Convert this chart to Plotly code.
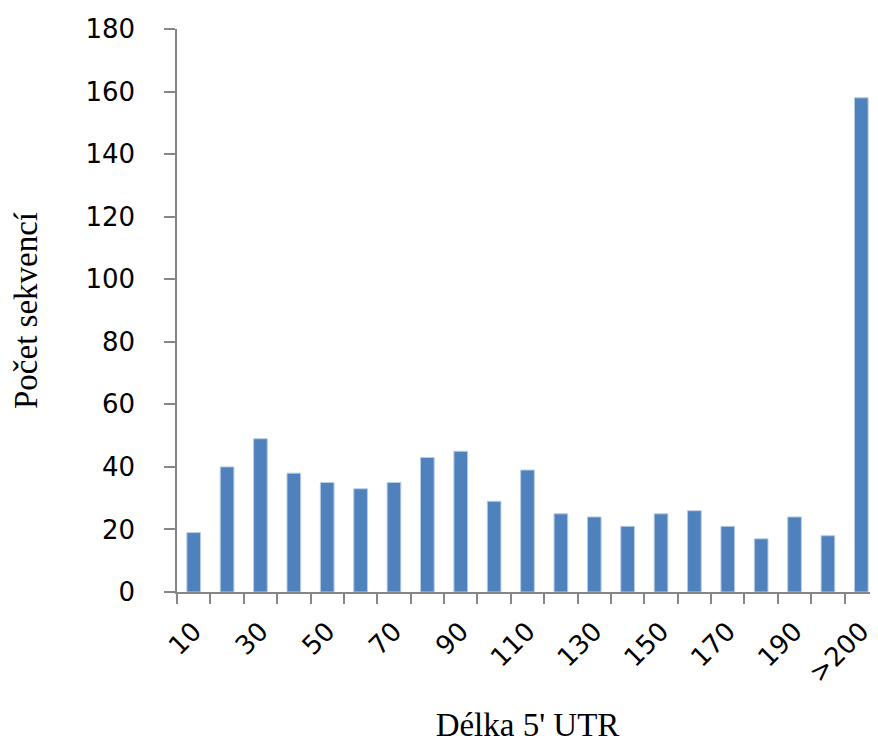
import plotly.graph_objects as go

categories = ["10", "20", "30", "40", "50", "60", "70", "80", "90", "100",
              "110", "120", "130", "140", "150", "160", "170", "180", "190", "200", ">200"]
counts = [19, 40, 49, 38, 35, 33, 35, 43, 45, 29, 39, 25, 24, 21, 25, 26, 21, 17, 24, 18, 158]
tick_labels = [c if i % 2 == 0 else "" for i, c in enumerate(categories)]
y_ticks = list(range(0, 181, 20))

fig = go.Figure(go.Bar(
    x=categories, y=counts,
    marker=dict(color="#4F81BD", line=dict(color="#B9CDE5", width=1)),
    width=0.41,
))

axis_gray = "#868686"
tick_font = dict(family="DejaVu Sans", size=26, color="black")
title_font = dict(family="Liberation Serif", size=33, color="black")
fig.update_layout(
    width=870, height=741,
    margin=dict(l=169, r=0, t=21, b=157),
    plot_bgcolor="white", paper_bgcolor="white",
    showlegend=False,
    xaxis=dict(
        type="category", automargin=False,
        tickmode="array", tickvals=categories, ticktext=tick_labels,
        tickson="boundaries",
        ticks="outside", ticklen=10, tickwidth=1.5, tickcolor=axis_gray,
        showline=True, linecolor=axis_gray, linewidth=1.5,
        showgrid=False,
        tickangle=-45,
        tickfont=tick_font,
        ticklabelstandoff=12,
        title=dict(text="Délka 5' UTR", font=title_font, standoff=26),
    ),
    yaxis=dict(
        range=[0, 180], automargin=False,
        tickmode="array", tickvals=y_ticks,
        ticks="outside", ticklen=11, tickwidth=1.5, tickcolor=axis_gray,
        showline=True, linecolor=axis_gray, linewidth=1.5,
        showgrid=False, zeroline=False,
        tickfont=tick_font,
        ticklabelstandoff=24,
        title=dict(text="Počet sekvencí", font=title_font, standoff=57),
    ),
)

fig.write_html("out.html")
